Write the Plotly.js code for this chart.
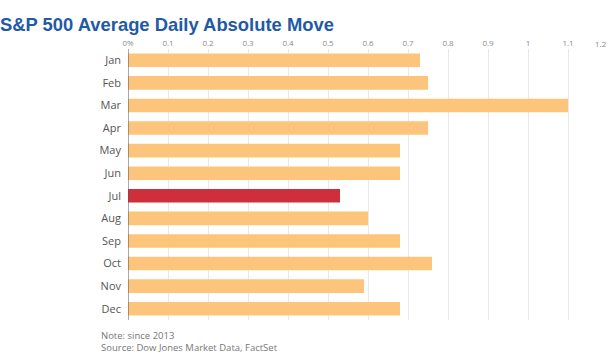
<!DOCTYPE html>
<html>
<head>
<meta charset="utf-8">
<script src="https://cdn.plot.ly/plotly-3.0.1.min.js"></script>
<style>
html,body{margin:0;padding:0;background:#fff;}
#chart{width:610px;height:353px;}
</style>
</head>
<body>
<div id="chart"></div>
<script>
const months = ["Jan","Feb","Mar","Apr","May","Jun","Jul","Aug","Sep","Oct","Nov","Dec"];
const avgMove = [0.73,0.75,1.10,0.75,0.68,0.68,0.53,0.60,0.68,0.76,0.59,0.68];
const highlightMonth = "Jul";
const tickVals = [0,0.1,0.2,0.3,0.4,0.5,0.6,0.7,0.8,0.9,1,1.1,1.2];
const tickText = ["0%","0.1","0.2","0.3","0.4","0.5","0.6","0.7","0.8","0.9","1","1.1","1.2"];

const colors = months.map(m => m === highlightMonth ? "#CF2F3A" : "#FDC57B");
const lastIdx = tickVals.length - 1;
// last label is drawn as an annotation, nudged inward so it stays inside the page
const axisText = tickText.map((t, i) => i === lastIdx ? "" : t);

const trace = {
  type: "bar",
  orientation: "h",
  y: months,
  x: avgMove,
  marker: {color: colors},
  hoverinfo: "none"
};

const tickFont = {family: "Open Sans, sans-serif", size: 8, color: "#8a8a8a"};

const layout = {
  width: 610, height: 353,
  margin: {l: 128, r: 2, t: 49, b: 33},
  paper_bgcolor: "#fff", plot_bgcolor: "#fff",
  bargap: 0.4,
  showlegend: false,
  font: {family: "Open Sans, sans-serif"},
  title: {
    text: "<b>S&P 500 Average Daily Absolute Move</b>",
    font: {family: "Liberation Sans, Arial, sans-serif", size: 18.4, color: "#1F5AA6"},
    x: 0, xref: "container", xanchor: "left",
    y: 9, yref: "container", yanchor: "middle",
    pad: {l: 0, t: 0}
  },
  xaxis: {
    side: "top",
    range: [0, 1.2],
    tickvals: tickVals,
    ticktext: axisText,
    showgrid: true, gridcolor: "#e8e8e8", gridwidth: 1,
    zeroline: false,
    showline: false,
    ticks: "",
    tickfont: tickFont,
    fixedrange: true
  },
  yaxis: {
    type: "category",
    autorange: false,
    range: [11.5, -0.5],
    showgrid: false,
    zeroline: false,
    showline: false,
    ticks: "",
    ticklabelstandoff: 6,
    tickfont: {size: 11, color: "#555"},
    fixedrange: true
  },
  shapes: [{
    type: "line", xref: "x", yref: "paper",
    x0: 0, x1: 0, y0: 0, y1: 1,
    line: {color: "#555", width: 1}
  }],
  annotations: [
    {text: tickText[lastIdx], xref: "x", yref: "paper", x: tickVals[lastIdx], y: 1,
     xanchor: "right", yanchor: "middle", xshift: 1, yshift: 6, showarrow: false,
     font: tickFont},
    {text: "Note: since 2013", xref: "paper", yref: "paper", x: -0.061, y: -0.058,
     xanchor: "left", yanchor: "middle", showarrow: false,
     font: {size: 9.5, color: "#777"}},
    {text: "Source: Dow Jones Market Data, FactSet", xref: "paper", yref: "paper", x: -0.061, y: -0.1,
     xanchor: "left", yanchor: "middle", showarrow: false,
     font: {size: 9.5, color: "#777"}}
  ]
};

Plotly.newPlot("chart", [trace], layout, {displayModeBar: false, staticPlot: true});
</script>
</body>
</html>
